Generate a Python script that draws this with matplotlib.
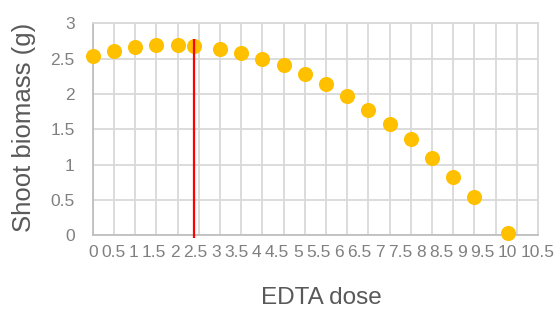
import matplotlib
matplotlib.use("Agg")
import matplotlib.pyplot as plt
import numpy as np

# Data
edta_dose = [0, 0.5, 1, 1.5, 2, 2.4, 3, 3.5, 4, 4.5, 5, 5.5, 6, 6.5, 7, 7.5, 8, 8.5, 9, 9.8]
shoot_biomass = [2.54, 2.61, 2.67, 2.69, 2.69, 2.68, 2.64, 2.58, 2.50, 2.41,
                 2.28, 2.14, 1.97, 1.78, 1.58, 1.36, 1.10, 0.83, 0.54, 0.03]
optimum_dose = 2.4
optimum_top = 2.78
x_tick_values = [i * 0.5 for i in range(22)]
x_tick_labels = ["0", "0.5", "1", "1.5", "2", "2.5", "3", "3.5", "4", "4.5", "5",
                 "5.5", "6", "6.5", "7", "7.5", "8", "8.5", "9", "9.5", "10", "10.5"]
y_ticks = [0, 0.5, 1, 1.5, 2, 2.5, 3]
y_tick_labels = ["0", "0.5", "1", "1.5", "2", "2.5", "3"]

plt.rcParams['font.family'] = ['Liberation Sans', 'DejaVu Sans']
W, H = 556, 311
fig = plt.figure(figsize=(W / 100, H / 100), dpi=100)
ax = fig.add_axes([92.7 / W, 1 - 235.3 / H, (538 - 92.7) / W, (235.3 - 23.3) / H])

grid_c = '#d9d9d9'
text_c = '#595959'
tick_c = '#808080'
ax.set_xlim(0, 10.5)
ax.set_ylim(0, 3)
ax.set_xticks(x_tick_values)
ax.set_xticklabels([])
ax.set_yticks(y_ticks)
ax.set_yticklabels(y_tick_labels, fontsize=12.5, color=tick_c)
ax.tick_params(axis='both', length=0)
ax.tick_params(axis='y', pad=13)
ax.grid(True, color=grid_c, linewidth=1.3)
ax.set_axisbelow(True)
for s in ax.spines.values():
    s.set_color(grid_c)
    s.set_linewidth(1.3)
ax.spines['left'].set_color('#bfbfbf')
ax.spines['bottom'].set_color('#bfbfbf')

ax.scatter(edta_dose, shoot_biomass, s=118, color='#FFC000', zorder=3, clip_on=False,
           linewidths=0)
ax.plot([optimum_dose, optimum_dose], [-0.04, optimum_top], color='#FF0000', lw=1.6,
        zorder=4, clip_on=False, solid_capstyle='butt')

# x tick labels laid out justified between first and last tick (as in reference)
fig.canvas.draw()
r = fig.canvas.get_renderer()
fs = 12.5
tmp = [fig.text(0, 0, t, fontsize=fs) for t in x_tick_labels]
widths = [t.get_window_extent(r).width for t in tmp]
for t in tmp:
    t.remove()
x0 = ax.transData.transform((x_tick_values[0], 0))[0]
x1 = ax.transData.transform((x_tick_values[-1], 0))[0]
span = (x1 - x0) + widths[0] / 2 + widths[-1] / 2
gap = (span - sum(widths)) / (len(widths) - 1)
cur = x0 - widths[0] / 2
ybase = ax.transAxes.transform((0, 0))[1] - 10
for lab, w in zip(x_tick_labels, widths):
    fig.text((cur + w / 2) / W, ybase / H, lab, fontsize=fs, color=tick_c,
             ha='center', va='top')
    cur += w + gap

fig.text(24 / W, 1 - 127 / H, 'Shoot biomass (g)', fontsize=18.5, color=text_c,
         rotation=90, ha='center', va='center')
fig.text((92.7 + 538) / 2 / W + 0.01, 1 - 298 / H, 'EDTA dose', fontsize=17.5,
         color=text_c, ha='center', va='center')

fig.savefig('out.png', dpi=100)
